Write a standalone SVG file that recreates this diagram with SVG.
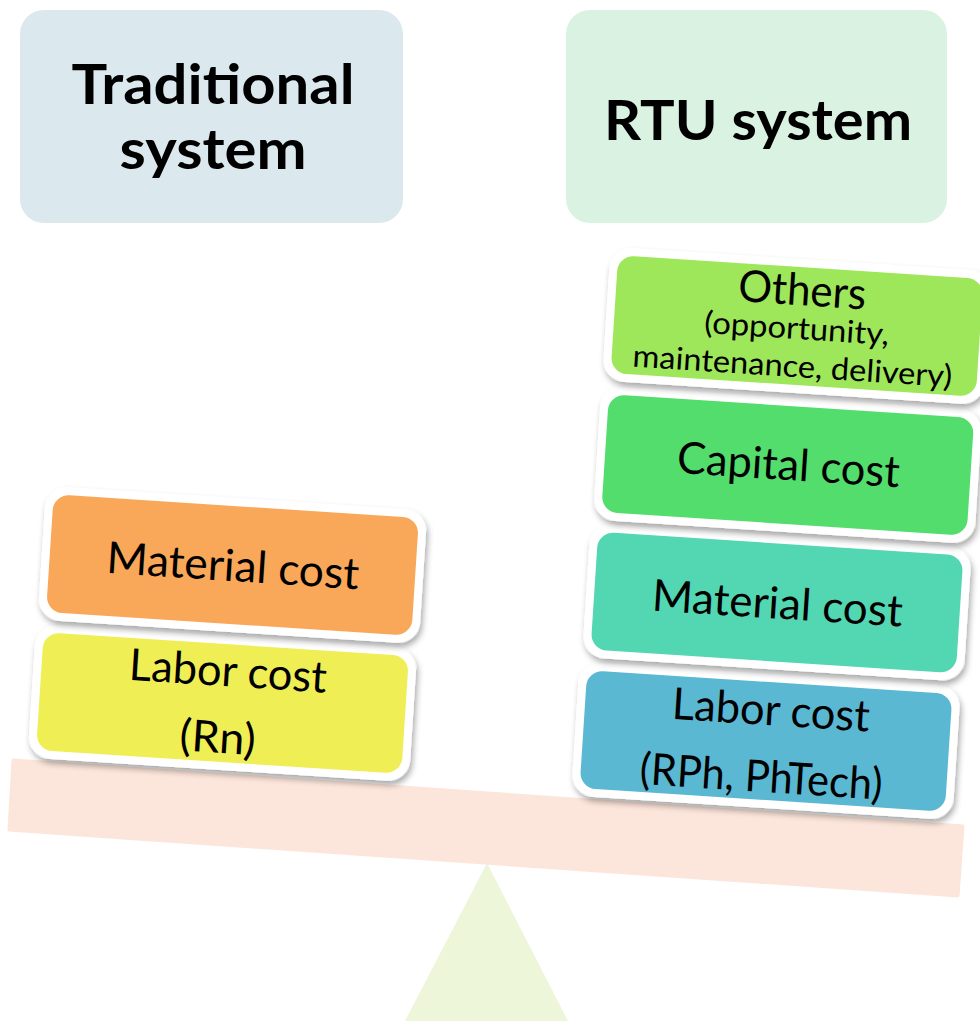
<svg xmlns="http://www.w3.org/2000/svg" width="980" height="1021" viewBox="0 0 980 1021">
<defs>
<filter id="sh" x="-10%" y="-20%" width="125%" height="150%">
<feDropShadow dx="2" dy="4" stdDeviation="3" flood-color="#000" flood-opacity="0.35"/>
</filter>
<style>
.hd{font-family:Lato,"Open Sans","Liberation Sans",sans-serif;font-weight:bold;font-size:56px;fill:#000;text-anchor:middle}
.t{font-family:Lato,"Open Sans","Liberation Sans",sans-serif;font-size:44px;fill:#000;text-anchor:middle}
.s{font-family:Lato,"Open Sans","Liberation Sans",sans-serif;font-size:31px;fill:#000;text-anchor:middle}
.outer{fill:#fff;filter:url(#sh)}
</style>
</defs>
<rect width="980" height="1021" fill="#fff"/>
<g id="traditional-header">
<rect x="20" y="10" width="383" height="213" rx="24" fill="#DBE8EE"/>
<text class="hd" x="213" y="104" textLength="283" lengthAdjust="spacingAndGlyphs">Traditional</text>
<text class="hd" x="213" y="169" textLength="187" lengthAdjust="spacingAndGlyphs">system</text>
</g>
<g id="rtu-header">
<rect x="566" y="10" width="381" height="213" rx="24" fill="#DAF2E2"/>
<text class="hd" x="758" y="140" textLength="308" lengthAdjust="spacingAndGlyphs">RTU system</text>
</g>
<g id="fulcrum">
<polygon points="487,863 568,1021 405,1021" fill="#EEF6DA"/>
</g>
<g id="beam">
<polygon points="13,760 963,826 958,896 9,830" fill="#FCE5DA" stroke="#FCE5DA" stroke-width="3" stroke-linejoin="round"/>
</g>
<g id="left-labor" transform="translate(222.5,703) rotate(3.7)">
<rect class="outer" x="-191" y="-67" width="382" height="134" rx="22"/>
<rect x="-183" y="-59" width="366" height="118" rx="16" fill="#F0EE55"/>
<text class="t" x="3.5" y="-17" textLength="198" lengthAdjust="spacingAndGlyphs">Labor cost</text>
<text class="t" x="-2.5" y="50" textLength="76" lengthAdjust="spacingAndGlyphs">(Rn)</text>
</g>
<g id="left-material" transform="translate(232.5,565) rotate(3.7)">
<rect class="outer" x="-191" y="-67" width="382" height="134" rx="22"/>
<rect x="-183" y="-59" width="366" height="118" rx="16" fill="#F9A85A"/>
<text class="t" x="0.5" y="16" textLength="253" lengthAdjust="spacingAndGlyphs">Material cost</text>
</g>
<g id="right-labor" transform="translate(766,741) rotate(3.7)">
<rect class="outer" x="-191" y="-67" width="382" height="134" rx="22"/>
<rect x="-183" y="-59" width="366" height="118" rx="16" fill="#5AB8D2"/>
<text class="t" x="3" y="-16" textLength="198" lengthAdjust="spacingAndGlyphs">Labor cost</text>
<text class="t" x="-2.5" y="51" textLength="243" lengthAdjust="spacingAndGlyphs">(RPh, PhTech)</text>
</g>
<g id="right-material" transform="translate(777,602.5) rotate(3.7)">
<rect class="outer" x="-191" y="-67" width="382" height="134" rx="22"/>
<rect x="-183" y="-59" width="366" height="118" rx="16" fill="#53D6B2"/>
<text class="t" x="0.5" y="16" textLength="251" lengthAdjust="spacingAndGlyphs">Material cost</text>
</g>
<g id="capital" transform="translate(787.75,465) rotate(3.7)">
<rect class="outer" x="-191" y="-67" width="382" height="134" rx="22"/>
<rect x="-183" y="-59" width="366" height="118" rx="16" fill="#52DD6C"/>
<text class="t" x="0.7" y="15" textLength="223" lengthAdjust="spacingAndGlyphs">Capital cost</text>
</g>
<g id="others" transform="translate(797,326) rotate(3.7)">
<rect class="outer" x="-191" y="-67" width="382" height="134" rx="22"/>
<rect x="-183" y="-59" width="366" height="118" rx="16" fill="#9EE65A"/>
<text class="t" x="3" y="-21" textLength="128" lengthAdjust="spacingAndGlyphs">Others</text>
<text class="s" x="0" y="13" textLength="185" lengthAdjust="spacingAndGlyphs">(opportunity,</text>
<text class="s" x="-2" y="51" textLength="320" lengthAdjust="spacingAndGlyphs">maintenance, delivery)</text>
</g>
</svg>
